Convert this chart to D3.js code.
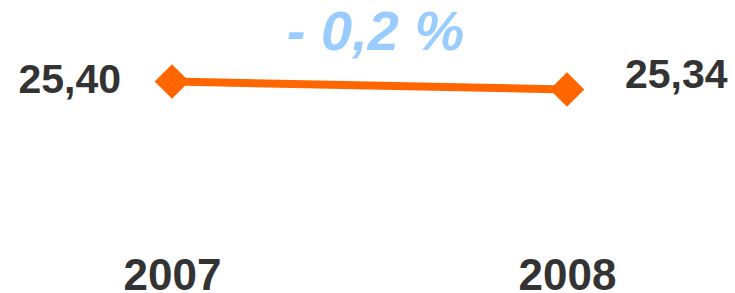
<!DOCTYPE html>
<html>
<head>
<meta charset="utf-8">
<script src="https://cdn.jsdelivr.net/npm/d3@7"></script>
<style>
  body { margin: 0; background: #fff; }
  text { font-family: "Liberation Sans", Arial, sans-serif; }
</style>
</head>
<body>
<svg width="735" height="293"></svg>
<script>
const years = ["2007", "2008"];
const values = [25.40, 25.34];

const svg = d3.select("svg");
const fmt = v => d3.format(".2f")(v).replace(".", ",");

const x = d3.scalePoint().domain(years).range([172, 567]);
const y = d3.scaleLinear().domain([25.1, 25.7]).range([121.5, 41.5]);

const data = years.map((yr, i) => ({ year: yr, value: values[i] }));

// line
svg.append("path")
  .datum(data)
  .attr("fill", "none")
  .attr("stroke", "#ff6600")
  .attr("stroke-width", 8)
  .attr("d", d3.line().x(d => x(d.year)).y(d => y(d.value)));

// diamonds
svg.selectAll(".pt")
  .data(data)
  .enter()
  .append("path")
  .attr("class", "pt")
  .attr("fill", "#ff6600")
  .attr("d", d3.symbol().type(d3.symbolSquare).size(600))
  .attr("transform", d => `translate(${x(d.year)},${y(d.value)}) rotate(45)`);

// value labels: first on the left, last on the right
svg.selectAll(".val")
  .data(data)
  .enter()
  .append("text")
  .attr("class", "val")
  .attr("x", (d, i) => i === 0 ? x(d.year) - 51 : x(d.year) + 58)
  .attr("y", (d, i) => i === 0 ? y(d.value) + 11.5 : y(d.value) - 1.5)
  .attr("text-anchor", (d, i) => i === 0 ? "end" : "start")
  .attr("font-size", 41)
  .attr("font-weight", "bold")
  .attr("fill", "#333333")
  .text(d => fmt(d.value));

// x axis labels
const xAxis = svg.append("g")
  .attr("transform", "translate(0,290)")
  .call(d3.axisBottom(x).tickSize(0).tickPadding(0));
xAxis.select(".domain").remove();
xAxis.selectAll("text")
  .attr("dy", 0)
  .attr("font-size", 44)
  .attr("font-weight", "bold")
  .attr("fill", "#333333")
  .style("font-family", "'Liberation Sans', Arial, sans-serif");

// change label
const change = (values[1] - values[0]) / values[0] * 100;
const changeTxt = (change < 0 ? "- " : "+ ") + d3.format(".1f")(Math.abs(change)).replace(".", ",") + " %";
svg.append("text")
  .attr("x", (x(years[0]) + x(years[1])) / 2 + 6)
  .attr("y", 50)
  .attr("text-anchor", "middle")
  .attr("font-size", 56)
  .attr("font-style", "italic")
  .attr("font-weight", "bold")
  .attr("fill", "#99ccff")
  .text(changeTxt);
</script>
</body>
</html>
